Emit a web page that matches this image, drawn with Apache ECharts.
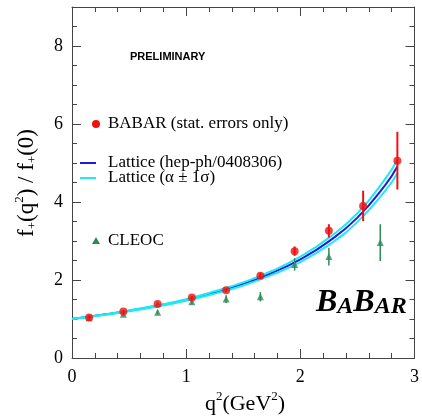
<!DOCTYPE html>
<html>
<head>
<meta charset="utf-8">
<script src="https://cdn.jsdelivr.net/npm/echarts@6/dist/echarts.min.js"></script>
<style>
  html, body { margin: 0; padding: 0; background: #fff; }
  #main { width: 422px; height: 418px; }
</style>
</head>
<body>
<div id="main"></div>
<script>
// BABAR points (stat. errors only)
var babarX = [0.15, 0.45, 0.75, 1.05, 1.35, 1.65, 1.95, 2.25, 2.55, 2.85];
var babarY = [1.04, 1.19, 1.385, 1.55, 1.74, 2.11, 2.74, 3.26, 3.90, 5.06];
var babarErr = [0.03, 0.03, 0.04, 0.04, 0.05, 0.07, 0.12, 0.17, 0.39, 0.74];

// CLEOC points
var cleoX = [0.15, 0.45, 0.75, 1.05, 1.35, 1.65, 1.95, 2.25, 2.70];
var cleoY = [1.03, 1.12, 1.17, 1.44, 1.51, 1.57, 2.40, 2.60, 2.96];
var cleoErr = [0.03, 0.04, 0.05, 0.06, 0.10, 0.12, 0.16, 0.23, 0.47];

// lattice curve and its +-1 sigma band
var curveX = [0, 0.25, 0.5, 0.75, 1.0, 1.25, 1.5, 1.75, 2.0, 2.25, 2.5, 2.75, 2.85];
var curveY = [1.00, 1.10, 1.21, 1.34, 1.49, 1.68, 1.90, 2.18, 2.53, 2.99, 3.60, 4.46, 4.91];
var curveHi = [1.00, 1.10, 1.22, 1.35, 1.51, 1.71, 1.94, 2.23, 2.60, 3.08, 3.71, 4.62, 5.08];
var curveLo = [1.00, 1.09, 1.20, 1.32, 1.47, 1.65, 1.86, 2.13, 2.46, 2.90, 3.49, 4.31, 4.74];

var xTicks = [0, 3, 1];   // min, max, step
var yTicks = [0, 9, 2];

var serif = 'Liberation Serif, Times New Roman, serif';
var red = '#f01010', green = '#2e8b57', blue = '#1c1ce0', cyan = '#22e8f2';

function pairs(xs, ys) {
  var out = [];
  for (var i = 0; i < xs.length; i++) out.push([xs[i], ys[i]]);
  return out;
}
function triples(xs, ys, es) {
  var out = [];
  for (var i = 0; i < xs.length; i++) out.push([xs[i], ys[i], es[i]]);
  return out;
}
function errBar(color, w) {
  return function (params, api) {
    var x = api.value(0), y = api.value(1), e = api.value(2);
    var a = api.coord([x, y + e]);
    var b = api.coord([x, y - e]);
    return {
      type: 'line',
      shape: { x1: a[0], y1: a[1], x2: b[0], y2: b[1] },
      style: { stroke: color, lineWidth: w }
    };
  };
}

function xAx(pos) {
  return {
    type: 'value', position: pos, min: xTicks[0], max: xTicks[1], interval: xTicks[2],
    axisLine: { show: true, onZero: false, lineStyle: { color: '#444', width: 1 } },
    axisTick: { show: true, inside: true, length: 9, lineStyle: { color: '#444' } },
    minorTick: { show: true, splitNumber: 5, length: 5, lineStyle: { color: '#444' } },
    axisLabel: { show: pos == 'bottom', margin: 10, fontFamily: serif, fontSize: 18, color: '#000' },
    splitLine: { show: false }
  };
}
function yAx(pos, step, len, labels) {
  return {
    type: 'value', position: pos, min: yTicks[0], max: yTicks[1], interval: step,
    axisLine: { show: labels !== null, onZero: false, lineStyle: { color: '#444', width: 1 } },
    axisTick: { show: true, inside: true, length: len, lineStyle: { color: '#444' } },
    axisLabel: { show: labels === true, showMaxLabel: false, margin: 9, fontFamily: serif, fontSize: 18, color: '#000' },
    splitLine: { show: false }
  };
}

var chart = echarts.init(document.getElementById('main'));
chart.setOption({
  animation: false,
  backgroundColor: '#fff',
  grid: { left: 72, right: 4, top: 7, bottom: 60 },
  xAxis: [xAx('bottom'), xAx('top')],
  yAxis: [
    yAx('left', yTicks[2], 9, true),
    yAx('left', 0.5, 5, null),
    yAx('right', yTicks[2], 9, false),
    yAx('right', 0.5, 5, null)
  ],
  series: [
    { type: 'line', data: pairs(curveX, curveY), smooth: true, showSymbol: false, lineStyle: { color: blue, width: 2 }, z: 2 },
    { type: 'line', data: pairs(curveX, curveHi), smooth: true, showSymbol: false, lineStyle: { color: cyan, width: 2 }, z: 3 },
    { type: 'line', data: pairs(curveX, curveLo), smooth: true, showSymbol: false, lineStyle: { color: cyan, width: 2 }, z: 3 },
    { type: 'custom', data: triples(cleoX, cleoY, cleoErr), renderItem: errBar(green, 1.5), z: 4 },
    { type: 'scatter', data: pairs(cleoX, cleoY), symbol: 'triangle', symbolSize: 7, itemStyle: { color: green }, z: 5 },
    { type: 'custom', data: triples(babarX, babarY, babarErr), renderItem: errBar(red, 2), z: 6 },
    { type: 'scatter', data: pairs(babarX, babarY), symbol: 'circle', symbolSize: 8, itemStyle: { color: red }, z: 7 }
  ],
  graphic: [
    { type: 'text', left: 130, top: 51, style: { text: 'PRELIMINARY', font: 'bold 11px Liberation Sans, Arial, sans-serif', fill: '#000' } },
    // legend
    { type: 'circle', shape: { cx: 96, cy: 124, r: 4 }, style: { fill: red } },
    { type: 'text', x: 108, y: 124, style: { text: 'BABAR (stat. errors only)', fontFamily: serif, fontSize: 17, fill: '#000', verticalAlign: 'middle' } },
    { type: 'line', shape: { x1: 80, y1: 163, x2: 96, y2: 163 }, style: { stroke: blue, lineWidth: 2 } },
    { type: 'text', x: 108, y: 163, style: { text: 'Lattice (hep-ph/0408306)', fontFamily: serif, fontSize: 17, fill: '#000', verticalAlign: 'middle' } },
    { type: 'line', shape: { x1: 80, y1: 178, x2: 96, y2: 178 }, style: { stroke: cyan, lineWidth: 2 } },
    { type: 'text', x: 108, y: 178, style: { text: 'Lattice (\u03b1 \u00b1 1\u03c3)', fontFamily: serif, fontSize: 17, fill: '#000', verticalAlign: 'middle' } },
    { type: 'polygon', shape: { points: [[96, 237], [92, 244], [100, 244]] }, style: { fill: green } },
    { type: 'text', x: 108, y: 241, style: { text: 'CLEOC', fontFamily: serif, fontSize: 17, fill: '#000', verticalAlign: 'middle' } },
    // BABAR logo
    { type: 'text', x: 316, y: 303, style: {
        text: '{b|B}{s|A}{b|B}{s|AR}', verticalAlign: 'middle',
        rich: {
          b: { fontFamily: serif, fontSize: 32, fontWeight: 'bold', fontStyle: 'italic', fill: '#000', verticalAlign: 'bottom' },
          s: { fontFamily: serif, fontSize: 24, fontWeight: 'bold', fontStyle: 'italic', fill: '#000', verticalAlign: 'bottom' }
        } } },
    // axis titles
    { type: 'text', x: 245, y: 404, style: {
        text: '{t|q}{p|2}{t|(GeV}{p|2}{t|)}', align: 'center', verticalAlign: 'middle',
        rich: {
          t: { fontFamily: serif, fontSize: 22, fill: '#000' },
          p: { fontFamily: serif, fontSize: 13, fill: '#000', padding: [0, 0, 14, 0] }
        } } },
    { type: 'text', x: 27, y: 183, rotation: Math.PI / 2, style: {
        text: '{t|f}{b|+}{t|(q}{p|2}{t|) / f}{b|+}{t|(0)}', align: 'center', verticalAlign: 'middle',
        rich: {
          t: { fontFamily: serif, fontSize: 23, fill: '#000' },
          p: { fontFamily: serif, fontSize: 13, fill: '#000', padding: [0, 0, 14, 0] },
          b: { fontFamily: serif, fontSize: 13, fill: '#000', padding: [12, 0, 0, 0] }
        } } }
  ]
});
</script>
</body>
</html>
